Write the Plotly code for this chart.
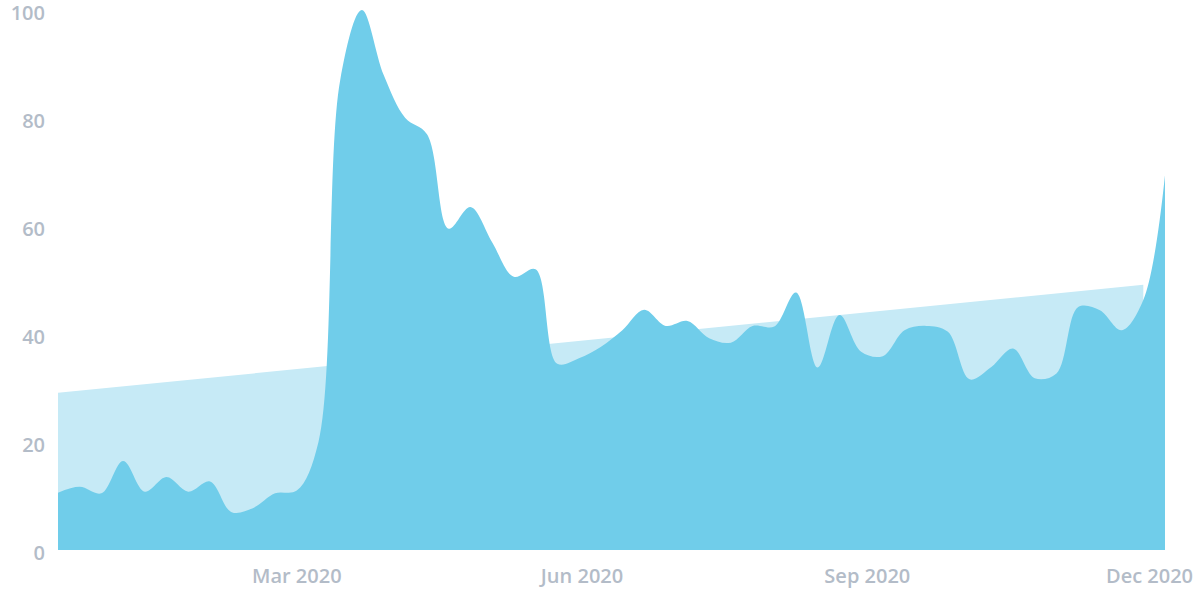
import pandas as pd
import plotly.graph_objects as go

# Weekly interest values (week starting Sunday)
week_start = "2019-12-15"
n_weeks = 52
interest = [
    10.6, 11.7, 10.5, 16.5, 10.8, 13.5, 10.8, 12.7, 7.0, 7.8,
    10.5, 11.0, 20.0, 87.0, 100.0, 88.0, 80.0, 77.0, 59.5, 63.5,
    57.0, 50.6, 52.0, 34.5, 35.5, 37.6, 40.7, 44.5, 41.5, 42.4,
    39.2, 38.4, 41.5, 41.4, 47.7, 33.8, 43.5, 36.7, 35.9, 40.7,
    41.5, 40.4, 31.6, 33.9, 37.3, 31.8, 32.7, 45.0, 44.4, 40.7,
    46.3, 69.4,
]
trend_dates = ["2019-12-15", "2020-11-29"]
trend_values = [29.1, 49.1]

tick_dates = ["2020-03-01", "2020-06-01", "2020-09-01", "2020-12-01"]
tick_labels = ["Mar 2020", "Jun 2020", "Sep 2020", "Dec 2020"]
y_ticks = [0, 20, 40, 60, 80, 100]

dates = pd.date_range(week_start, periods=n_weeks, freq="7D")

fig = go.Figure()
fig.add_trace(go.Scatter(
    x=trend_dates, y=trend_values, mode="lines", fill="tozeroy",
    line=dict(width=0, color="rgba(0,0,0,0)"),
    fillcolor="#c6eaf6", hoverinfo="skip", showlegend=False,
))
fig.add_trace(go.Scatter(
    x=dates, y=interest, mode="lines", fill="tozeroy",
    line=dict(width=0, shape="spline", smoothing=1.0, color="rgba(0,0,0,0)"),
    fillcolor="#70cdea", showlegend=False,
))

label_font = dict(family="Open Sans", size=20, color="#b3bcc8", weight=600)

fig.update_layout(
    width=1200, height=600,
    margin=dict(l=58, r=35, t=10, b=50, autoexpand=False),
    paper_bgcolor="white", plot_bgcolor="white",
    xaxis=dict(
        type="date", range=[dates[0], dates[-1]],
        tickmode="array", tickvals=tick_dates, ticktext=tick_labels,
        showgrid=False, zeroline=False, showline=False, ticks="",
        tickfont=label_font, ticklabelstandoff=12,
        ticklabeloverflow="allow", automargin=False,
    ),
    yaxis=dict(
        range=[0, 100], tickmode="array", tickvals=y_ticks,
        showgrid=False, zeroline=False, showline=False, ticks="",
        tickfont=label_font, ticklabelstandoff=12, ticklabelshift=3,
        ticklabeloverflow="allow", automargin=False,
    ),
)

fig.write_html(
    "out.html",
    config={"displayModeBar": False},
    post_script="document.body.style.margin='0';document.body.style.overflow='hidden';",
)
